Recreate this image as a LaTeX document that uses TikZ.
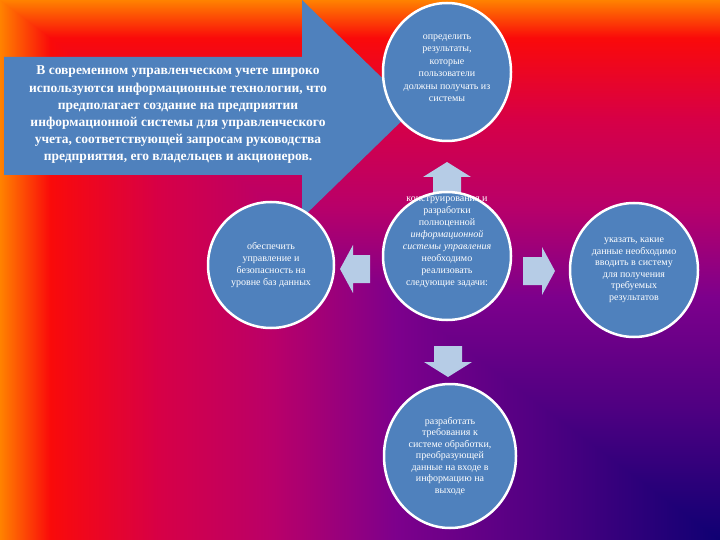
\documentclass[tikz,border=0pt]{standalone}
\usepackage{fontspec}
\setmainfont{Liberation Serif}
\usepackage{tikz}
\usetikzlibrary{positioning,shapes.geometric}
\definecolor{bgorange}{RGB}{255,130,0}
\definecolor{bgred}{RGB}{250,10,10}
\definecolor{bgcrimson}{RGB}{215,0,70}
\definecolor{bgmagenta}{RGB}{185,0,105}
\definecolor{bgpurple}{RGB}{125,0,140}
\definecolor{bgindigo}{RGB}{80,0,130}
\definecolor{bgnavy}{RGB}{15,0,115}
\definecolor{cblue}{RGB}{79,129,189}
\definecolor{lblue}{RGB}{182,204,230}
\pgfdeclarehorizontalshading{bgh}{100bp}{color(0bp)=(bgorange); color(25bp)=(bgorange);
  color(28.5bp)=(bgred); color(36bp)=(bgcrimson); color(44bp)=(bgmagenta);
  color(52.5bp)=(bgpurple); color(62.5bp)=(bgindigo); color(75bp)=(bgnavy); color(100bp)=(bgnavy)}
\pgfdeclareverticalshading{bgv}{100bp}{color(0bp)=(bgnavy); color(25bp)=(bgnavy);
  color(37.5bp)=(bgindigo); color(47.5bp)=(bgpurple); color(56bp)=(bgmagenta);
  color(64bp)=(bgcrimson); color(71.5bp)=(bgred); color(75bp)=(bgorange); color(100bp)=(bgorange)}

\begin{document}
\begin{tikzpicture}[x=1pt, y=-1pt,
  circ/.style={circle, fill=cblue, draw=white, line width=2.5pt, minimum size=126pt,
    inner sep=0pt, text=white, align=center, font=\fontsize{10}{11.5}\selectfont},
  txt/.style={text=white, align=center, inner sep=0pt},
  larr/.style={fill=lblue}]
\useasboundingbox (0,0) rectangle (720,540);
\shade[shading=bgh] (0,0) rectangle (720,540);
\shade[shading=bgv] (0,0) -- (720,0) -- (720,540) -- cycle;

\fill[cblue] (4,57) -- (302,57) -- (302,0) -- (414,109) -- (302,218) -- (302,175) -- (4,175) -- cycle;
\node[txt, font=\bfseries\fontsize{13.5}{17.2}\selectfont] (intro) at (178,115)
  {В современном управленческом учете широко\\используются информационные технологии, что\\предполагает создание на предприятии\\информационной системы для управленческого\\учета, соответствующей запросам руководства\\предприятия, его владельцев и акционеров.};

\fill[larr] (433,194) -- (433,177) -- (423,177) -- (447,162) -- (471,177) -- (461,177) -- (461,194) -- cycle;
\fill[larr] (370,255) -- (353,255) -- (353,245) -- (340,269) -- (353,293) -- (353,283) -- (370,283) -- cycle;
\fill[larr] (523,257) -- (542,257) -- (542,247) -- (555,271) -- (542,295) -- (542,285) -- (523,285) -- cycle;
\fill[larr] (434,346) -- (434,362) -- (424,362) -- (448,377) -- (472,362) -- (462,362) -- (462,346) -- cycle;

\node[circ, ellipse, minimum width=128pt, minimum height=138pt] (Ctop) at (447,72) {};
\node[txt, font=\fontsize{10}{12.5}\selectfont] (Ttop) at (447,68) {определить\\результаты,\\которые\\пользователи\\должны получать из\\системы};
\node[circ, minimum size=128pt] (Cmid) at (447,256) {};
\node[txt, font=\fontsize{10}{12}\selectfont] (Tmid) at (447,242) {конструирования и\\разработки\\полноценной\\\textit{информационной}\\\textit{системы управления}\\необходимо\\реализовать\\следующие задачи:};
\node[circ, font=\fontsize{10}{11.7}\selectfont] (Cl) at (271,265) {обеспечить\\управление и\\безопасность на\\уровне баз данных};
\node[circ, ellipse, minimum width=128pt, minimum height=134pt] (Cr) at (634,270) {указать, какие\\данные необходимо\\вводить в систему\\для получения\\требуемых\\результатов};
\node[circ, ellipse, minimum width=132pt, minimum height=144pt] (Cbot) at (450,456) {разработать\\требования к\\системе обработки,\\преобразующей\\данные на входе в\\информацию на\\выходе};
\end{tikzpicture}
\end{document}
